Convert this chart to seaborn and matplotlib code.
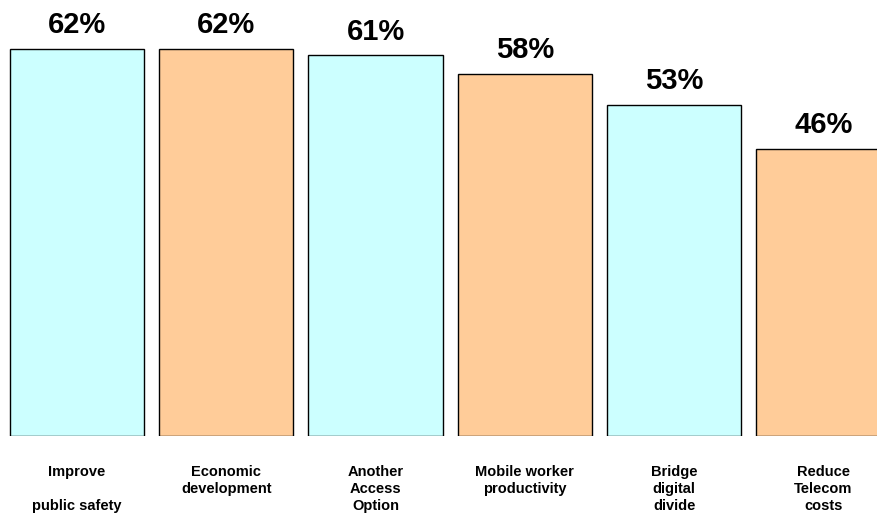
import matplotlib
matplotlib.use("Agg")
import matplotlib.pyplot as plt
import seaborn as sns
import pandas as pd

categories = ["Improve\n\npublic safety", "Economic\ndevelopment", "Another\nAccess\nOption",
              "Mobile worker\nproductivity", "Bridge\ndigital\ndivide", "Reduce\nTelecom\ncosts"]
values = [62, 62, 61, 58, 53, 46]
bar_colors = ["#CCFFFF", "#FFCC99", "#CCFFFF", "#FFCC99", "#CCFFFF", "#FFCC99"]

sns.set_style("white")
plt.rcParams['font.family'] = ['Liberation Sans', 'DejaVu Sans']

df = pd.DataFrame({"cat": categories, "val": values})

fig = plt.figure(figsize=(8.78, 5.19), dpi=100)
ax = fig.add_axes([0, 0.1605, 1, 0.8395])
sns.barplot(data=df, x="cat", y="val", hue="cat", palette=bar_colors, legend=False,
            width=0.9, edgecolor="black", linewidth=1, saturation=1, ax=ax)

for cont in ax.containers:
    ax.bar_label(cont, labels=[f"{int(v)}%" for v in cont.datavalues], padding=7,
                 fontsize=21, fontweight="bold", color="black")

ax.set_xlim(-77 / 149.3, (878 - 77) / 149.3)
ax.set_ylim(0, 435.7 / 6.237)
ax.set_xlabel("")
ax.set_ylabel("")
ax.set_yticks([])
ax.tick_params(axis="x", length=0, pad=21, colors="black")
for lbl in ax.get_xticklabels():
    lbl.set_fontsize(10.5)
    lbl.set_fontweight("bold")
    lbl.set_linespacing(1.3)
    lbl.set_color("black")
for s in ax.spines.values():
    s.set_visible(False)

fig.savefig("out.png", dpi=100, facecolor="white")
